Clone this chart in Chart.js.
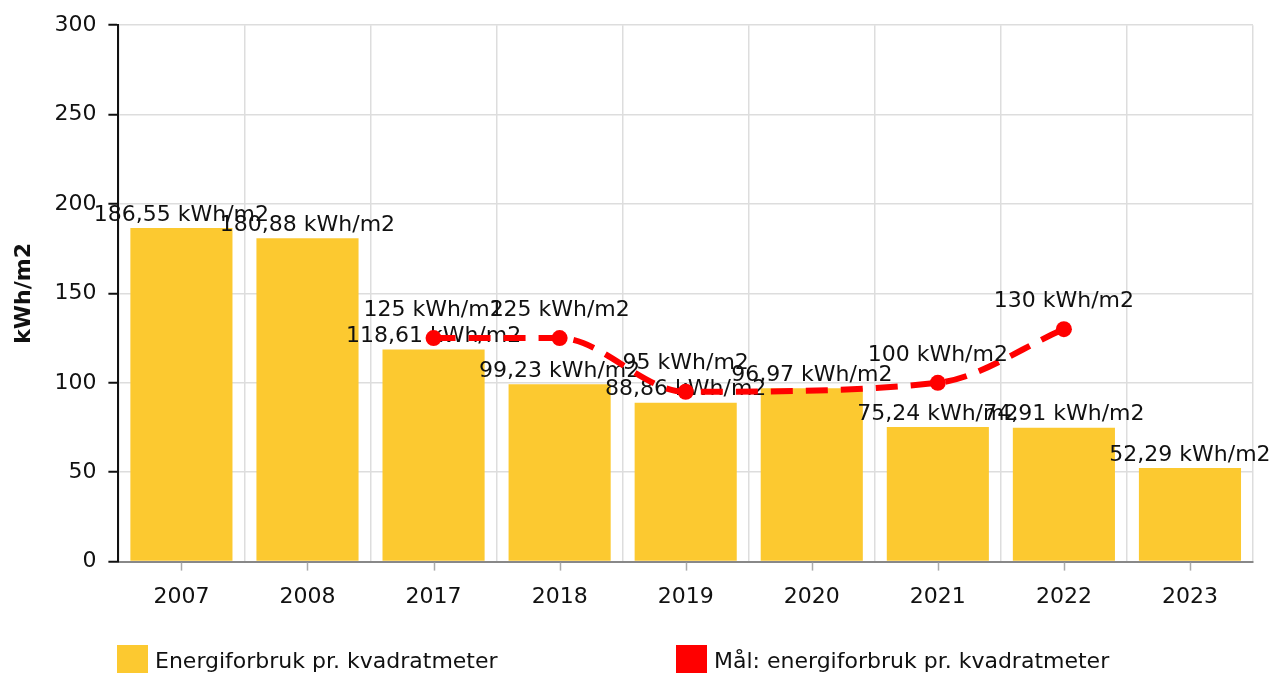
<!DOCTYPE html>
<html>
<head>
<meta charset="utf-8">
<script src="https://cdn.jsdelivr.net/npm/chart.js@4"></script>
<style>
	body { margin: 0; background: #fff; }
	#wrap { position: relative; width: 1274px; height: 673px; }
</style>
</head>
<body>
<div id="wrap"><canvas id="energyChart"></canvas></div>
<script>
// years on the x axis
var years = ["2007", "2008", "2017", "2018", "2019", "2020", "2021", "2022", "2023"];
// measured energy use per m2
var forbruk = [186.55, 180.88, 118.61, 99.23, 88.86, 96.97, 75.24, 74.91, 52.29];
// target values (no target for some years)
var maal = [null, null, 125, 125, 95, null, 100, 130, null];
var yTicks = [0, 50, 100, 150, 200, 250, 300];

var FONT = "'DejaVu Sans', Verdana, sans-serif";
var FS = 22;
var yellow = '#fcc930';
var red = '#ff0000';

function fmt(v) {
	return v.toFixed(2).replace(/\.00$/, '').replace('.', ',') + ' kWh/m2';
}

// value labels: bars right after the bars are drawn, line after the line
var valueLabels = {
	id: 'valueLabels',
	afterDatasetDraw: function(chart, args) {
		var ctx = chart.ctx;
		var meta = args.meta;
		var ds = chart.data.datasets[args.index];
		var off = meta.type === 'bar' ? 13 : 28;
		ctx.save();
		ctx.font = FS + 'px ' + FONT;
		ctx.fillStyle = '#111';
		ctx.textAlign = 'center';
		ctx.textBaseline = 'middle';
		meta.data.forEach(function(el, i) {
			var v = ds.data[i];
			if (v === null || v === undefined) return;
			ctx.fillText(fmt(v), el.x, el.y - off);
		});
		ctx.restore();
	}
};

// small tick marks under category centres + legend at the bottom
var extras = {
	id: 'extras',
	afterDraw: function(chart) {
		var ctx = chart.ctx;
		var x = chart.scales.x;
		var area = chart.chartArea;
		ctx.save();
		ctx.strokeStyle = '#aaa';
		ctx.lineWidth = 1.5;
		years.forEach(function(y, i) {
			var px = Math.round(x.getPixelForValue(i)) + 0.5;
			ctx.beginPath();
			ctx.moveTo(px, area.bottom + 1);
			ctx.lineTo(px, area.bottom + 9);
			ctx.stroke();
		});
		// legend
		var items = [
			{ text: 'Energiforbruk pr. kvadratmeter', color: yellow, x: 117 },
			{ text: 'Mål: energiforbruk pr. kvadratmeter', color: red, x: 676 }
		];
		ctx.font = FS + 'px ' + FONT;
		ctx.textBaseline = 'middle';
		ctx.textAlign = 'left';
		items.forEach(function(it) {
			ctx.fillStyle = it.color;
			ctx.fillRect(it.x, 645, 31, 30);
			ctx.fillStyle = '#111';
			ctx.fillText(it.text, it.x + 38, 662);
		});
		ctx.restore();
	}
};

var ctx = document.getElementById('energyChart').getContext('2d');
var chart = new Chart(ctx, {
	data: {
		labels: years,
		datasets: [{
			type: 'bar',
			label: 'Energiforbruk pr. kvadratmeter',
			data: forbruk,
			backgroundColor: yellow,
			borderWidth: 0,
			categoryPercentage: 1,
			barPercentage: 0.81,
			order: 2
		}, {
			type: 'line',
			label: 'Mål: energiforbruk pr. kvadratmeter',
			data: maal,
			borderColor: red,
			backgroundColor: red,
			borderWidth: 6,
			borderDash: [22, 13],
			cubicInterpolationMode: 'monotone',
			spanGaps: true,
			pointRadius: 8,
			pointHoverRadius: 8,
			pointBorderWidth: 0,
			fill: false,
			order: 1
		}]
	},
	options: {
		responsive: true,
		maintainAspectRatio: false,
		animation: false,
		layout: { padding: { top: 15, right: 21, bottom: 41, left: 11 } },
		plugins: {
			legend: { display: false },
			tooltip: { enabled: false }
		},
		scales: {
			x: {
				offset: true,
				grid: { color: '#dddddd', lineWidth: 1.5, offset: true, drawTicks: false },
				border: { color: '#888', width: 2 },
				ticks: { color: '#111', font: { family: FONT, size: FS }, padding: 22 }
			},
			y: {
				min: 0,
				max: 300,
				afterBuildTicks: function(axis) {
					axis.ticks = yTicks.map(function(v) { return { value: v }; });
				},
				grid: { color: '#dddddd', lineWidth: 1.5, tickColor: '#111', tickLength: 10, tickWidth: 2 },
				border: { color: '#111', width: 2 },
				ticks: { color: '#111', font: { family: FONT, size: FS }, padding: 12 },
				title: {
					display: true,
					text: 'kWh/m2',
					color: '#111',
					font: { family: FONT, size: FS, weight: 'bold' },
					padding: { top: 0, bottom: 5 }
				}
			}
		}
	},
	plugins: [valueLabels, extras]
});
</script>
</body>
</html>
